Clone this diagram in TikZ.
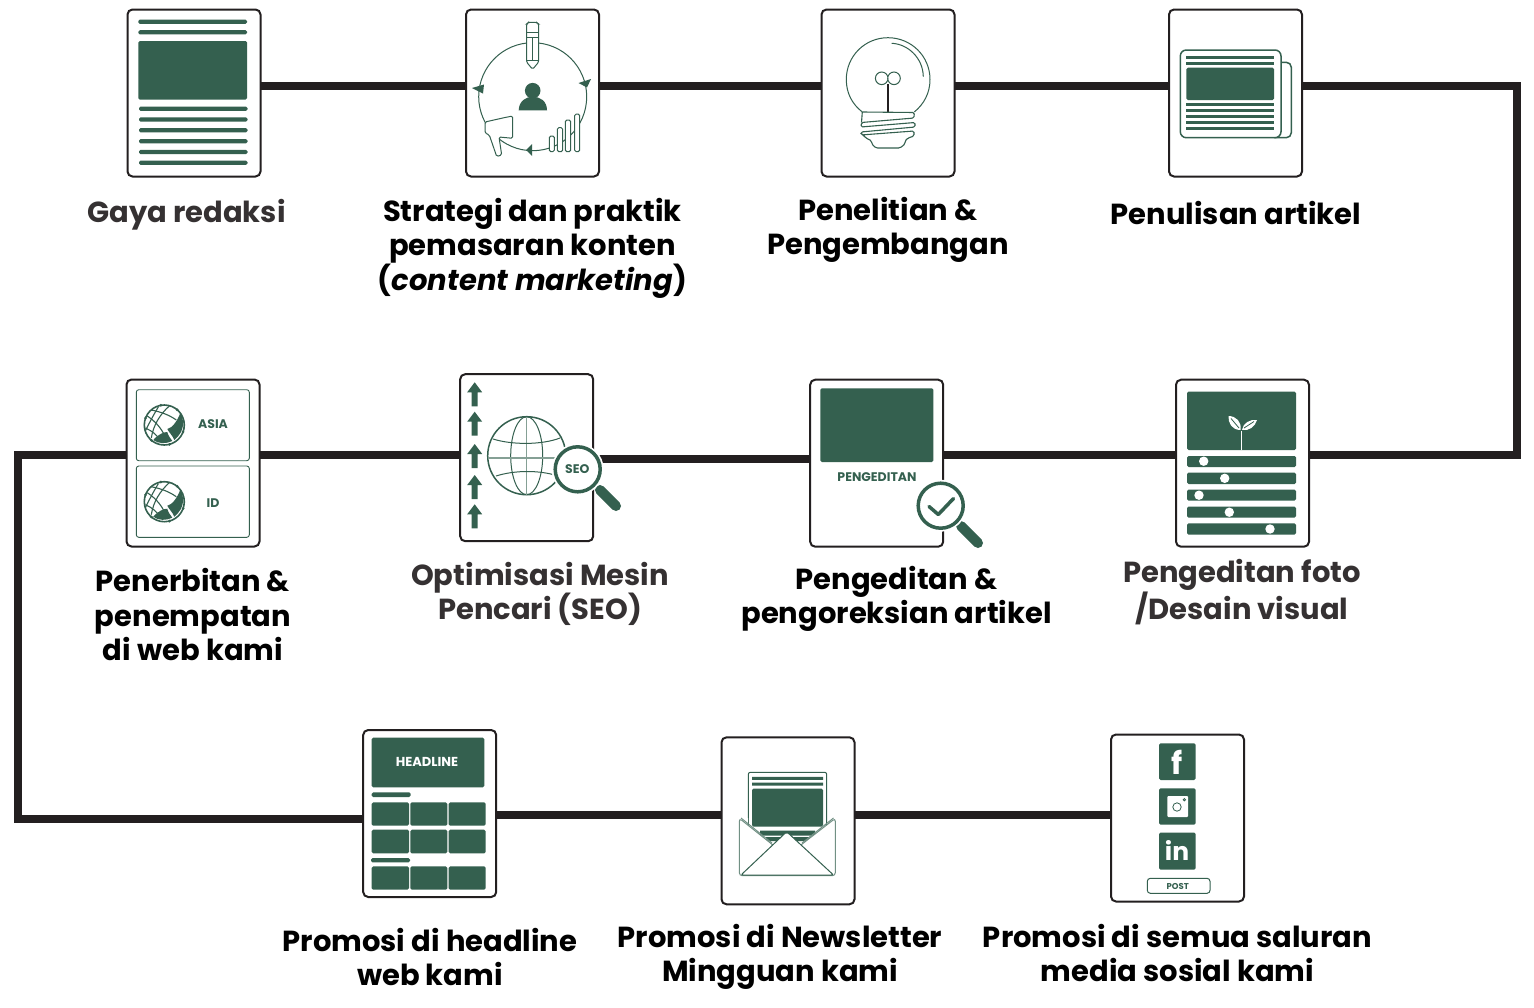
\documentclass[tikz,border=0pt]{standalone}
\usepackage{fontspec}
\setmainfont{Poppins}
\definecolor{gr}{HTML}{34604F}
\definecolor{ink}{HTML}{231F20}
\tikzset{
 x=1pt,y=-1pt,
 card/.style={draw=ink,fill=white,line width=2pt,rounded corners=5pt,minimum width=133pt,minimum height=167pt,inner sep=0pt},
 conn/.style={draw=ink,line width=8pt,line join=miter},
 lab/.style={font=\fontsize{29}{34.4}\selectfont\bfseries,align=center,inner sep=0pt,text=black},
 labg/.style={lab,text=ink!92!white},
 ic/.style={draw=gr,line width=1pt,fill=white},
 icn/.style={draw=gr,line width=1pt},
 gf/.style={fill=gr,rounded corners=1.5pt},
 gtxt/.style={text=gr,font=\bfseries,inner sep=0pt},
}
\newcommand\gr[4]{\fill[gf] (#1,#2) rectangle (#3,#4);}
\newcommand\globeicon[2]{\begin{scope}[shift={(#1,#2)}]
 \draw[icn,line width=1.6pt] (0,0) circle (20);
 \draw[icn,line width=1.1pt] (-17,-9) .. controls (-8,-3) and (-1,5) .. (3,17);
 \draw[icn,line width=1.1pt] (-19,3) .. controls (-12,6) and (-7,10) .. (-4,16);
 \draw[icn,line width=1.1pt] (-6,-18) .. controls (-12,-8) and (-16,0) .. (-19,6);
 \draw[icn,line width=1.1pt] (5,-19) .. controls (-4,-11) and (-11,0) .. (-13,13);
 \draw[icn,line width=1.1pt] (-13,-15) .. controls (-3,-13) and (5,-10) .. (12,-5);
 \fill[gr] (16,-12) .. controls (20,-5) and (21,6) .. (10,15) .. controls (8,10) and (5,8) .. (3,4) .. controls (8,3) and (13,-4) .. (16,-12) -- cycle;
 \fill[gr] (-11,15) .. controls (-6,9) and (0,7) .. (3,7) .. controls (4,11) and (6,13) .. (8,16) .. controls (2,19) and (-6,19) .. (-11,15) -- cycle;
 \foreach \a in {20,75,130,200,260,310}{\fill[gr] (\a:20) circle (1.5);}
\end{scope}}
\newcommand\uparrowicon[2]{\fill[gr] (#1,#2) -- (#1+7.5,#2+10) -- (#1+3,#2+10) -- (#1+3,#2+24) -- (#1-3,#2+24) -- (#1-3,#2+10) -- (#1-7.5,#2+10) -- cycle;}
\newcommand\lens[3]{\fill[white] (#1,#2) circle (#3+3.5);\draw[gr,fill=white,line width=3.5pt] (#1,#2) circle (#3);}
\newcommand\handle[4]{\draw[gr,line width=10pt,line cap=round] (#1,#2) -- (#3,#4);}
\begin{document}
\begin{tikzpicture}
\useasboundingbox (0,0) rectangle (1534,1007);
\fill[white] (0,0) rectangle (1534,1007);
% cards
\begin{scope}[on background layer/.style={}]
\path (194,93) node[minimum width=133pt,minimum height=167pt,inner sep=0pt] (c1) {};
\path (532.5,93) node[minimum width=133pt,minimum height=167pt,inner sep=0pt] (c2) {};
\path (888,93) node[minimum width=133pt,minimum height=167pt,inner sep=0pt] (c3) {};
\path (1235.5,93) node[minimum width=133pt,minimum height=167pt,inner sep=0pt] (c4) {};
\path (193,463) node[minimum width=133pt,minimum height=167pt,inner sep=0pt] (c5) {};
\path (526.7,457.7) node[minimum width=133pt,minimum height=167pt,inner sep=0pt] (c6) {};
\path (876.7,463.2) node[minimum width=133pt,minimum height=167pt,inner sep=0pt] (c7) {};
\path (1242.5,463.2) node[minimum width=133pt,minimum height=167pt,inner sep=0pt] (c8) {};
\path (429.7,813.5) node[minimum width=133pt,minimum height=167pt,inner sep=0pt] (c9) {};
\path (788,820.8) node[minimum width=133pt,minimum height=167pt,inner sep=0pt] (c10) {};
\path (1177.5,818) node[minimum width=133pt,minimum height=167pt,inner sep=0pt] (c11) {};
\end{scope}
\coordinate (tr) at (1517,85.7);
\coordinate (br) at (1517,454.7);
\coordinate (tl) at (18,455);
\coordinate (bl) at (18,819);
% connectors
\draw[conn] ([yshift=7.3pt]c1.east) -- ([yshift=7.3pt]c2.west);
\draw[conn] ([yshift=7.3pt]c2.east) -- ([yshift=7.3pt]c3.west);
\draw[conn] ([yshift=7.3pt]c3.east) -- ([yshift=7.3pt]c4.west);
\draw[conn] ([yshift=7.3pt]c4.east) -- (tr) -- (br) -- ([yshift=8.5pt]c8.east);
\draw[conn] ([yshift=8.2pt]c8.west) -- ([yshift=8.2pt]c7.east);
\draw[conn] ([yshift=4.7pt]c7.west) -- ([yshift=-0.8pt]c6.east);
\draw[conn] ([yshift=2.7pt]c6.west) -- ([yshift=8pt]c5.east);
\draw[conn] ([yshift=8pt]c5.west) -- (tl) -- (bl) -- ([yshift=-5.5pt]c9.west);
\draw[conn] ([yshift=-1.8pt]c9.east) -- ([yshift=5.5pt]c10.west);
\draw[conn] ([yshift=5.5pt]c10.east) -- ([yshift=2.7pt]c11.west);
% visible card frames
\foreach \n in {c1,c2,c3,c4,c5,c6,c7,c8,c9,c10,c11}{\node[card] at (\n.center) {};}

% --- c1 Gaya redaksi
\foreach \y in {21.7,32.3}{\gr{138.3}{\y-2.1}{247}{\y+2.1}}
\gr{138.3}{41}{247}{99.7}
\foreach \y in {108.7,119.5,130.3,141.3,152,162.7}{\gr{139}{\y-2.1}{247.5}{\y+2.1}}

% --- c2 content marketing
\draw[icn] (532.7,96.7) circle (54);
\fill[gr] (532.7,90.7) circle (7.8);
\fill[gr] (518.7,110.3) .. controls (519,101) and (526,96.7) .. (532.7,96.7) .. controls (540,96.7) and (547,101) .. (547,110.3) -- cycle;
\draw[ic,rounded corners=1.5pt] (526.5,24) -- (526.5,62) -- (532.6,69.3) -- (538.7,62) -- (538.7,24) -- (536.5,22.3) -- (528.5,22.3) -- cycle;
\draw[icn] (526.5,32) -- (538.7,32) (526.5,37) -- (538.7,37) (526.5,60) -- (538.7,60) (532.6,37) -- (532.6,60);
\fill[gr] (591,79) -- (587,87.5) -- (578.5,83) -- cycle;
\fill[gr] (472,88) -- (484,84.5) -- (483,93.5) -- cycle;
\fill[gr] (526,150) -- (532,144) -- (532,156) -- cycle;
\foreach \a/\b/\c/\d in {549.3/136/554.3/151.7,557.3/127.7/562.7/151.7,565.3/120/570.7/151.7,574.7/114/579.7/151.7}{\draw[ic,rounded corners=1.5pt] (\a,\b) rectangle (\c,\d);}
\draw[ic,rounded corners=1.5pt] (485,122) -- (505,117.5) -- (512.7,116) -- (512.7,138.3) -- (499,137) -- (501.7,155) -- (496.7,156.5) -- (489.3,135) -- (485,133) -- cycle;

% --- c3 bulb
\draw[icn,fill=white] (862.3,112) .. controls (852,104) and (846.3,93) .. (846.3,79.5) .. controls (846.3,56) and (865,37.7) .. (888,37.7) .. controls (911,37.7) and (930,56) .. (930,79.5) .. controls (930,93) and (924,104) .. (914.3,112);
\draw[icn] (891.7,43.3) .. controls (908,44) and (923,58) .. (923.3,76.7);
\draw[icn] (881.7,78.3) circle (6.3) (894,78.3) circle (6.3);
\draw[ink,line width=1.6pt] (888,84) -- (888,112);
\draw[icn,line width=1.1pt,rounded corners=1.5pt] (862.3,112) -- (914.3,112.5) -- (914,118) -- (861.5,122.5) -- (861,127) -- (915,122.5) -- (915,127) -- (861,132) -- (861,135) -- (914,131) -- (914,136) -- (908,138) -- (905,141) -- (905,144) -- (900,148) -- (876,148) -- (871.7,144) -- (871.7,141) -- (866,138) -- (862,134);
\draw[icn,line width=1.1pt] (862.3,112) -- (861.5,122.5);

% --- c4 newspaper
\draw[ic,line width=1.5pt,rounded corners=5pt] (1270,62.3) -- (1291.3,62.3) -- (1291.3,137.7) -- (1270,137.7) -- cycle;
\draw[ic,line width=1.5pt,rounded corners=6pt] (1180.3,50) rectangle (1281,137.7);
\foreach \y in {57.3,63.3,104.7,110.7,116.7,122.7,128.7}{\fill[gr] (1186.3,\y-1.5) rectangle (1274,\y+1.5);}
\gr{1186.3}{67.7}{1274}{100}

% --- c5 web
\draw[icn,rounded corners=2.5pt,line width=0.9pt] (136.3,389.7) rectangle (249.3,460.7);
\draw[icn,rounded corners=2.5pt,line width=0.9pt] (136.3,466) rectangle (249.3,537.3);
\globeicon{164.3}{425}
\globeicon{164.3}{501.7}
\node[gtxt,font=\fontsize{12.5}{14}\selectfont\bfseries] (asia) at (213,423.7) {ASIA};
\node[gtxt,font=\fontsize{12.5}{14}\selectfont\bfseries] (idt) at (213,503.3) {ID};

% --- c6 SEO
\foreach \y in {382.3,411.7,444,475,504.3}{\uparrowicon{474.7}{\y}}
\draw[icn,line width=1.5pt] (526.7,455.7) circle (39);
\draw[icn] (526.7,455.7) ellipse (16 and 39);
\draw[gr!60!white,line width=1.5pt] (526.7,416.7) -- (526.7,494.7);
\draw[gr!60!white,line width=1.2pt] (487.7,458) -- (565.7,458);
\draw[icn] (493,439) .. controls (512,445) and (542,445) .. (560,438);
\draw[icn] (496,476) .. controls (515,470) and (540,470) .. (558,476);
\handle{600}{490}{616}{506}
\lens{577.7}{469.3}{22.5}
\node[gtxt,font=\fontsize{12.5}{14}\selectfont\bfseries] (seo) at (577.3,469.5) {SEO};

% --- c7 editing
\gr{820.3}{388.3}{933.3}{462}
\node[gtxt,font=\fontsize{12.5}{14}\selectfont\bfseries] (ped) at (877,476.7) {PENGEDITAN};
\handle{961}{526}{978}{543}
\lens{940.7}{505.7}{22.5}
\draw[gr,line width=3.5pt,line cap=round,line join=round] (929,506.5) -- (938.3,514.5) -- (953.5,498.5);

% --- c8 visual
\gr{1187}{391.7}{1296}{450}
\foreach \a/\b in {456/467,472.7/484,489.7/500.7,506.7/517.7,523.3/534.7}{\gr{1187}{\a}{1296}{\b}}
\foreach \x/\y in {1203.7/461.2,1224.7/478.3,1199/495.2,1229.3/512.2,1270/529}{\fill[white] (\x,\y) circle (4.7);}
\draw[white,line width=1.2pt] (1241.3,431) -- (1241.3,450);
\fill[white] (1240.5,430) .. controls (1232,430) and (1228,423) .. (1228.5,416) .. controls (1236,416) and (1242,422) .. (1240.5,430) -- cycle;
\fill[white] (1242,430) .. controls (1243,423) and (1250,419) .. (1257,420) .. controls (1255,427) and (1249,431) .. (1242,430) -- cycle;
\draw[gr,line width=0.8pt] (1231,418.5) -- (1239,428) (1254,421.5) -- (1244,428);

% --- c9 headline
\gr{371.7}{737.7}{484.3}{787.3}
\node[text=white,inner sep=0pt,font=\fontsize{13}{15}\selectfont\bfseries] (hl) at (427,761.7) {HEADLINE};
\gr{371.7}{792.3}{410.7}{797}
\gr{371}{858}{410}{862.3}
\foreach \a/\b in {802.3/825.7,829.7/853.3,866.3/889.7}{
 \gr{371.7}{\a}{409}{\b}\gr{410.3}{\a}{447.3}{\b}\gr{448.7}{\a}{485.7}{\b}}

% --- c10 newsletter
\draw[ic,rounded corners=2pt] (748.3,830) -- (748.3,772.3) -- (826.7,772.3) -- (826.7,830);
\fill[gr] (752,776.8) rectangle (823,779.8) (752,782.5) rectangle (823,785.5);
\gr{752}{788.7}{823}{826.7}
\fill[gr] (760,830.5) rectangle (815,835.5) (766,837) rectangle (809,841);
\draw[icn,rounded corners=3pt,fill=white,draw=gr!70!white] (739.3,818.3) -- (739.3,875.7) -- (835.3,875.7) -- (835.3,818.3) -- (786.7,856) -- cycle;
\path[fill=white,draw=gr,line width=1pt,rounded corners=2pt] (741,875) -- (786.7,831.7) -- (833.5,875) -- cycle;
\fill[white] (743,819.7) -- (748,823) -- (748,818) -- cycle;
\draw[icn,draw=gr!70!white] (741,818) -- (772,843) (833.5,818) -- (802,843);

% --- c11 social
\gr{1159}{743.3}{1195.7}{780}
\gr{1159}{788.3}{1195.7}{824.7}
\gr{1159}{832.7}{1195.7}{869.7}
\fill[white,rounded corners=1pt] (1167.3,796) rectangle (1188,817);
\draw[gr,line width=0.8pt] (1177,807) circle (4.2) (1184.3,799.7) circle (1.2);
\node[text=white,inner sep=0pt,font=\fontsize{31}{33}\selectfont\bfseries] (fb) at (1177.5,762) {f};
\node[text=white,inner sep=0pt,font=\fontsize{25}{27}\selectfont\bfseries] (li) at (1177,850) {in};
\draw[icn,rounded corners=3pt,fill=white] (1147.3,878.3) rectangle (1210,893.3);
\node[gtxt,font=\fontsize{8.5}{10}\selectfont\bfseries] (post) at (1177.8,886) {POST};

% --- labels
\node[labg] (l1) at (186.5,215) {Gaya redaksi};
\node[lab] (l2) at (532.5,248) {Strategi dan praktik\\pemasaran konten\\({\itshape content marketing})};
\node[lab] (l3) at (888,230) {Penelitian \&\\Pengembangan};
\node[lab] (l4) at (1236,213) {Penulisan artikel};
\node[lab] (l5) at (193,614.5) {Penerbitan \&\\penempatan\\di web kami};
\node[labg] (l6) at (540,594) {Optimisasi Mesin\\Pencari (SEO)};
\node[lab] (l7) at (896.5,599) {Pengeditan \&\\pengoreksian artikel};
\node[labg] (l8) at (1242,592) {Pengeditan foto\\/Desain visual};
\node[lab] (l9) at (430,957) {Promosi di headline\\web kami};
\node[lab] (l10) at (780,957) {Promosi di Newsletter\\Mingguan kami};
\node[lab] (l11) at (1177.5,953) {Promosi di semua saluran\\media sosial kami};
\end{tikzpicture}
\end{document}
